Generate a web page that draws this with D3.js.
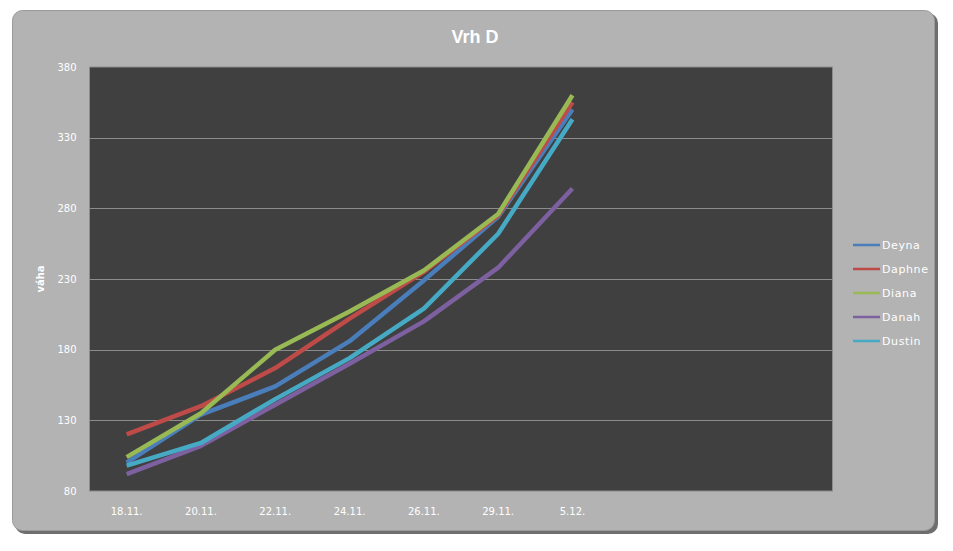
<!DOCTYPE html>
<html lang="cs">
<head>
<meta charset="UTF-8">
<title>Vrh D</title>
<style>
  body { margin: 0; background: #fff; }
  svg text { font-family: "DejaVu Sans", Verdana, sans-serif; }
</style>
</head>
<body>
<script src="https://cdn.jsdelivr.net/npm/d3@7"></script>
<script>
// categories (the last three slots are empty in the original chart)
const categories = ['18.11.', '20.11.', '22.11.', '24.11.', '26.11.', '29.11.', '5.12.', '', ' ', '  '];
const names = ['Deyna', 'Daphne', 'Diana', 'Danah', 'Dustin'];
const colors = ['#4a7ebb', '#be4b48', '#98b954', '#7d60a0', '#46aac5'];

const deyna  = [100, 134, 154, 186, 229, 274, 350];
const daphne = [120, 140, 167, 202, 235, 275, 355];
const diana  = [104, 135, 180, 207, 236, 276, 360];
const danah  = [92, 112, 141, 170, 200, 238, 294];
const dustin = [98, 114, 145, 174, 209, 262, 343];
const series = [deyna, daphne, diana, danah, dustin];

const yTicks = [80, 130, 180, 230, 280, 330, 380];

const W = 953, H = 551;
const plot = { left: 89.5, top: 67, right: 832.5, bottom: 491 };

const svg = d3.select('body').append('svg')
  .attr('width', W)
  .attr('height', H);

// frame with shadow
svg.append('rect')
  .attr('x', 15).attr('y', 13)
  .attr('width', 923).attr('height', 521)
  .attr('rx', 10)
  .attr('fill', '#6e6e6e');
svg.append('rect')
  .attr('x', 12.5).attr('y', 10.5)
  .attr('width', 922).attr('height', 520)
  .attr('rx', 10)
  .attr('fill', '#b3b3b3')
  .attr('stroke', '#9a9a9a');

svg.append('text')
  .attr('x', 475).attr('y', 43)
  .attr('text-anchor', 'middle')
  .attr('fill', '#fff')
  .attr('font-size', 18)
  .attr('font-weight', 'bold')
  .style('font-family', '"Liberation Sans Narrow", "Liberation Sans", Arial, sans-serif')
  .text('Vrh D');

const x = d3.scaleBand()
  .domain(categories)
  .range([plot.left, plot.right]);

const y = d3.scaleLinear()
  .domain([80, 380])
  .range([plot.bottom, plot.top]);

svg.append('rect')
  .attr('x', plot.left).attr('y', plot.top)
  .attr('width', plot.right - plot.left)
  .attr('height', plot.bottom - plot.top)
  .attr('fill', '#404040')
  .attr('stroke', '#8c8c8c');

// gridlines
svg.append('g').selectAll('line')
  .data(yTicks.slice(1, -1))
  .enter()
  .append('line')
  .attr('x1', plot.left).attr('x2', plot.right)
  .attr('y1', d => Math.round(y(d)) + 0.5)
  .attr('y2', d => Math.round(y(d)) + 0.5)
  .attr('stroke', '#8c8c8c');

// y axis
const yAxis = svg.append('g')
  .attr('transform', `translate(${plot.left},0)`)
  .call(d3.axisLeft(y).tickValues(yTicks).tickSize(0).tickPadding(13));
yAxis.select('.domain').remove();
yAxis.selectAll('text')
  .attr('fill', '#fff')
  .attr('font-size', 10)
  .attr('font-family', '"DejaVu Sans", sans-serif');

// x axis
const xAxis = svg.append('g')
  .attr('transform', `translate(0,${plot.bottom})`)
  .call(d3.axisBottom(x).tickSize(0).tickPadding(17));
xAxis.select('.domain').remove();
xAxis.selectAll('text')
  .attr('fill', '#fff')
  .attr('font-size', 10)
  .attr('font-family', '"DejaVu Sans", sans-serif');

svg.append('text')
  .attr('transform', 'translate(44,279) rotate(-90)')
  .attr('text-anchor', 'middle')
  .attr('fill', '#fff')
  .attr('font-size', 10)
  .attr('font-weight', 'bold')
  .text('váha');

// lines
const line = d3.line()
  .x((d, i) => x(categories[i]) + x.bandwidth() / 2)
  .y(d => y(d));

svg.append('g').selectAll('path')
  .data(series)
  .enter()
  .append('path')
  .attr('d', line)
  .attr('fill', 'none')
  .attr('stroke', (d, i) => colors[i])
  .attr('stroke-width', 4.5)
  .attr('stroke-linejoin', 'round');

// legend
const legend = svg.append('g').selectAll('g')
  .data(names)
  .enter()
  .append('g')
  .attr('transform', (d, i) => `translate(853,${245 + i * 24})`);
legend.append('line')
  .attr('x1', 0).attr('x2', 27)
  .attr('stroke', (d, i) => colors[i])
  .attr('stroke-width', 2.5);
legend.append('text')
  .attr('x', 29).attr('y', 4)
  .attr('fill', '#fff')
  .attr('font-size', 11)
  .attr('letter-spacing', 0.6)
  .text(d => d);
</script>
</body>
</html>
